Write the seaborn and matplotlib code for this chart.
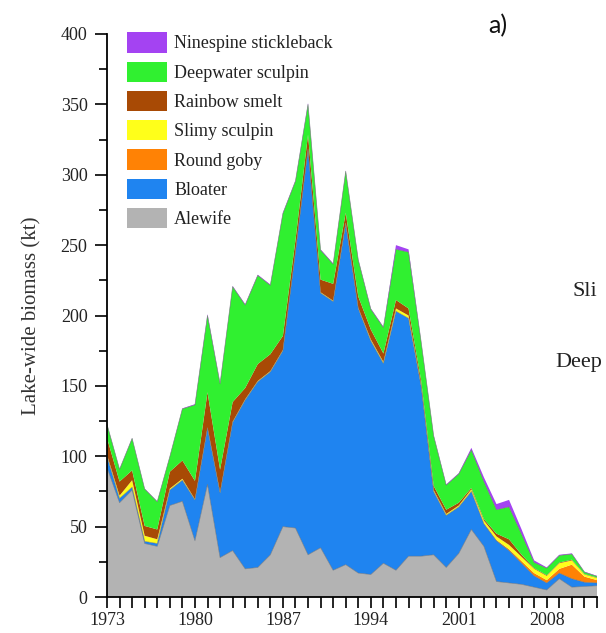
import matplotlib
matplotlib.use("Agg")
import matplotlib.pyplot as plt
from matplotlib.patches import Patch
from matplotlib.ticker import MultipleLocator
import numpy as np
import seaborn as sns

# Lake-wide prey fish biomass (kt), Lake Michigan bottom trawl survey
years = list(range(1973, 2013))

alewife = [92, 67, 76, 38, 36, 65, 68, 40, 80, 28, 33, 20, 21, 30, 50, 49, 30, 35, 19, 23,
           17, 16, 24, 19, 29, 29, 30, 21, 31, 48, 36, 11, 10, 9, 7, 5, 13, 7, 7.5, 8]
bloater = [8, 3, 2, 1.5, 2, 11, 15, 29, 40, 46, 91, 120, 132, 130, 125, 196, 288, 181, 191, 242,
           188, 166, 142, 184, 169, 121, 45, 37, 33, 27, 16, 29, 23, 15, 8, 5, 4, 6, 3, 2]
round_goby = [0] * 30 + [0.3, 0.5, 1, 1.5, 2, 2, 3, 10, 4, 2]
slimy_sculpin = [1, 2, 5, 4, 3, 1, 1, 0.5, 0.5, 0.5, 0.5, 0.5, 0.5, 0.5, 0.5, 0.5, 0.5, 0.5, 0.5, 1,
                 0.5, 1, 1, 2, 2, 1, 1, 1, 1, 1.5, 2, 2.5, 3, 3, 3, 3, 4, 3, 1.5, 1.5]
rainbow_smelt = [12, 10, 7, 7, 7, 12, 13, 13, 25, 16, 14, 8, 12, 12, 10, 8, 10, 9, 12, 7,
                 8, 7, 6, 6, 5, 3, 3, 3, 2, 1, 1, 2, 4, 1.5, 0.5, 0.5, 0.5, 0.5, 0.3, 0.3]
deepwater_sculpin = [9.7, 8.7, 22.7, 26.2, 19.7, 10.7, 36.7, 54, 54.5, 61, 82, 59, 63, 49, 87, 42,
                     21.5, 21, 14, 29.5, 26, 14.5, 18.5, 36, 40, 27.5, 35.5, 17.5, 20.5, 27,
                     26.7, 17, 23, 14.5, 4, 5, 5, 4, 1.4, 0.9]
ninespine_stickleback = [0.3, 0.3, 0.3, 0.3, 0.3, 0.3, 0.3, 0.5, 1, 0.5, 0.5, 0.5, 0.5, 0.5, 0.5,
                         0.5, 1, 0.5, 0.5, 0.5, 0.5, 0.5, 0.5, 3, 2, 0.5, 0.5, 0.5, 0.5, 1.5, 3,
                         4, 5, 3.5, 1.5, 0.5, 0.5, 0.5, 0.3, 0.3]

species = ["Alewife", "Bloater", "Round goby", "Slimy sculpin", "Rainbow smelt",
           "Deepwater sculpin", "Ninespine stickleback"]
series = [alewife, bloater, round_goby, slimy_sculpin, rainbow_smelt,
          deepwater_sculpin, ninespine_stickleback]
colors = ["#b3b3b3", "#1f84f0", "#ff8205", "#ffff1a", "#a84a05", "#30f030", "#a443f2"]

sns.set_theme(style="ticks")
serif = ["Liberation Serif", "DejaVu Serif"]
plt.rcParams["font.family"] = serif

fig = plt.figure(figsize=(6.06, 6.33), dpi=100)
ax = fig.add_axes([107 / 606, 36 / 633, 490 / 606, 563 / 633])

ax.stackplot(years, *series, colors=colors, edgecolor="none", linewidth=0)

# thin grey outlines along the main layer boundaries
cum = np.cumsum(np.array(series, dtype=float), axis=0)
for i, top in enumerate(cum):
    if i in (0, 1, 5):
        sns.lineplot(x=years, y=top, ax=ax, color="#6d6d6d", linewidth=0.5, alpha=0.7)

ax.set_xlim(1973, 2012)
ax.set_ylim(0, 400)
ax.set_xticks(range(1973, 2013, 7))
ax.xaxis.set_minor_locator(MultipleLocator(1))
ax.yaxis.set_major_locator(MultipleLocator(50))
ax.yaxis.set_minor_locator(MultipleLocator(25))

for side in ("top", "right"):
    ax.spines[side].set_visible(False)
for side in ("left", "bottom"):
    ax.spines[side].set_color("black")
    ax.spines[side].set_linewidth(1.3)

ax.tick_params(axis="both", which="both", direction="out", color="black", width=1.2,
               labelsize=13, labelcolor="#222222")
ax.tick_params(axis="x", which="both", length=8, pad=3)
ax.tick_params(axis="y", which="major", length=9, pad=5)
ax.tick_params(axis="y", which="minor", length=6)

ax.set_ylabel("Lake-wide biomass (kt)", fontsize=15, color="#333333", labelpad=14)
ax.set_xlabel("")

handles = [Patch(facecolor=c, edgecolor="none") for c in colors][::-1]
ax.legend(handles, species[::-1], loc="upper left", bbox_to_anchor=(0.041, 1.003),
          frameon=False, fontsize=13, handlelength=2.2, handleheight=1.35,
          labelspacing=0.5, handletextpad=0.4, borderpad=0, borderaxespad=0,
          labelcolor="#222222")

fig.text(498 / 606, 1 - 26 / 633, "a)", fontsize=18, family=["Lato", "DejaVu Sans"],
         ha="center", va="center", color="#111111")
# labels of the neighbouring panel, running off the right edge
fig.text(572 / 606, 1 - 292 / 633, "Sli", fontsize=16, ha="left", va="center",
         color="#222222")
fig.text(555 / 606, 1 - 362 / 633, "Deep", fontsize=16, ha="left", va="center",
         color="#222222")

fig.savefig("out.png", dpi=100)
